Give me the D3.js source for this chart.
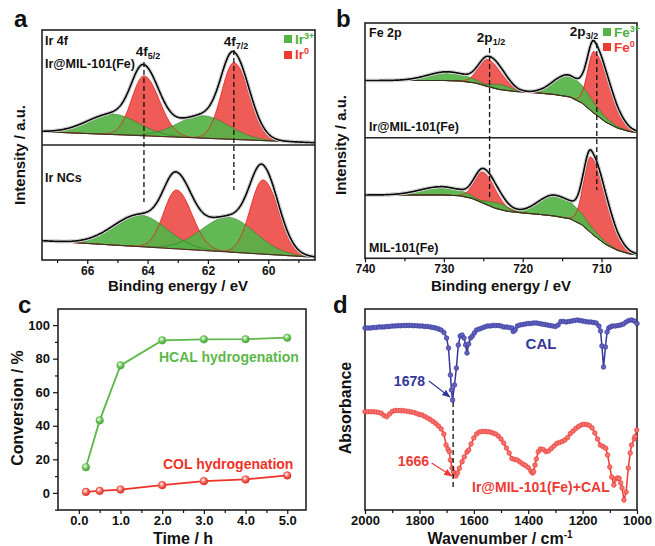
<!DOCTYPE html>
<html>
<head>
<meta charset="utf-8">
<script src="https://cdn.jsdelivr.net/npm/d3@7"></script>
<style>
  html, body { margin: 0; padding: 0; background: #fff; }
  svg { display: block; font-family: "Liberation Sans", Arial, sans-serif; font-weight: bold; }
</style>
</head>
<body>
<div id="chart"></div>
<script>
// ---------- data ----------
// fitted XPS components: [centre eV, height, hwhm on high-BE side, hwhm on low-BE side]
// panel a, Ir 4f
const irTicks = [66, 64, 62, 60];
const irMinor = [67, 65, 63, 61, 59];
const irMilIr3 = [[65.15, 20.5, 1.0, 1.0], [62.16, 22.5, 1.0, 1.0]];
const irMilIr0 = [[64.12, 59.8, 0.48, 0.6], [61.14, 76.7, 0.48, 0.6]];
const irMilBg = [[67.5, 13.3], [58.45, 2.3]];
const irNcIr3 = [[64.25, 31.7, 1.05, 1.05], [61.32, 34.7, 1.05, 1.05]];
const irNcIr0 = [[63.04, 58.9, 0.5, 0.6], [60.17, 74.2, 0.5, 0.6]];
const irNcBg = [[67.5, 19.3], [58.45, 2.7]];
const irPeaks = [64.12, 61.14];

// panel b, Fe 2p
const feTicks = [740, 730, 720, 710];
const feMinor = [735, 725, 715];
const feMilFe3 = [[729.5, 8.8, 3.0, 3.0], [722.8, 5, 1.5, 1.5], [714.2, 21.7, 2.25, 3.2]];
const feMilFe0 = [[724.4, 27, 1.4, 2.0], [710.9, 62, 1.0, 2.3]];
const feMilBg = [[740, 57.2], [730, 57.2], [728, 56.7], [726, 54.7], [724.5, 51.2], [723, 48.2], [721, 46.2],
  [718, 44.7], [716, 43.2], [714, 40.7], [712.5, 34.7], [711, 24.7], [709.5, 15.7], [708, 9.7], [706.5, 6.2], [705.5, 5.2]];
const feRefFe3 = [[730.3, 8.3, 3.2, 3.2], [723.0, 6, 1.8, 1.5], [715.9, 21, 2.5, 3.6]];
const feRefFe0 = [[725.0, 31, 1.3, 1.8], [711.3, 76, 1.1, 2.3]];
const feRefBg = [[740, 63.3], [730, 63.3], [728, 62.5], [726.5, 60], [725, 55], [723.5, 50], [722, 47], [720, 45.3],
  [718, 44], [716, 42.3], [714, 39.5], [712.5, 33.5], [711, 23], [709.5, 14], [708, 8], [706.5, 4.5], [705.5, 3.5]];
const fePeaks = [724.2, 710.6];

// panel c, conversion vs time
const timeH = [0.17, 0.5, 1, 2, 3, 4, 5];
const hcalConv = [15.3, 43.2, 76, 90.9, 91.5, 91.6, 92.5];
const colConv = [0.6, 1.2, 2, 4.6, 7, 8, 10.4];

// panel d, FTIR (wavenumber, absorbance a.u.)
const calIR = [[2000, 91], [1990, 91], [1980, 91], [1970, 91.25], [1960, 91.25], [1950, 91.5], [1940, 91.5], [1930, 91.5],
  [1920, 91.75], [1910, 91.75], [1900, 92], [1890, 92], [1880, 92.15], [1870, 92.15], [1860, 92.25], [1850, 92.25],
  [1840, 92.25], [1830, 92.25], [1820, 92.15], [1810, 92.15], [1800, 92], [1790, 92], [1780, 91.75], [1770, 91.75],
  [1760, 91.5], [1750, 91.25], [1740, 91], [1730, 90.5], [1720, 90], [1710, 88.75], [1700, 86], [1693, 81],
  [1686, 67.5], [1682, 60], [1678, 55], [1671, 62.5], [1664, 71], [1657, 82.5], [1650, 87], [1643, 87.5],
  [1636, 86], [1630, 82.5], [1625, 78.5], [1619, 83], [1612, 86], [1605, 87], [1598, 88.5], [1590, 90],
  [1580, 90.5], [1570, 91], [1560, 91.5], [1550, 92], [1540, 92], [1530, 92.25], [1520, 92.25], [1510, 92.25],
  [1500, 92], [1490, 91.5], [1480, 91.5], [1470, 91.25], [1460, 91], [1455, 89.25], [1448, 90], [1440, 92],
  [1430, 92.5], [1420, 92.75], [1410, 93], [1400, 93.25], [1390, 93.25], [1380, 93.5], [1370, 93.5], [1360, 93.25],
  [1350, 93], [1340, 92.75], [1330, 92.5], [1320, 92.25], [1310, 92], [1300, 91.75], [1290, 92.5], [1280, 94.25],
  [1270, 94.25], [1260, 94], [1250, 94.25], [1240, 94.5], [1230, 94.75], [1220, 95], [1210, 94.75], [1200, 94.5],
  [1190, 94.25], [1180, 94], [1170, 94], [1160, 93.75], [1150, 93.5], [1140, 92], [1134, 89.5], [1129, 82],
  [1123, 71.5], [1116, 81.5], [1110, 89], [1104, 91], [1098, 91.5], [1090, 92], [1080, 92], [1070, 92.25],
  [1060, 92.5], [1050, 93], [1040, 94], [1030, 94.75], [1020, 95], [1010, 94.5], [1000, 93.25]];
const irCalIR = [[2000, 49.15], [1990, 49.15], [1980, 49.15], [1970, 49.15], [1960, 49], [1950, 48.75], [1940, 48.35],
  [1930, 47.25], [1920, 46.65], [1910, 48], [1900, 49.25], [1890, 49.75], [1880, 49.75], [1870, 49.75], [1860, 49.65],
  [1850, 49.5], [1840, 49.25], [1830, 49], [1820, 48.75], [1810, 48.25], [1800, 47.75], [1790, 47.5], [1780, 46.75],
  [1770, 46], [1760, 45.25], [1750, 44.25], [1740, 43.25], [1730, 42], [1720, 40.5], [1710, 38], [1702, 32.5],
  [1695, 30.5], [1690, 29.15], [1686, 25], [1680, 21], [1675, 19], [1670, 17.75], [1666, 17], [1660, 18.5],
  [1653, 20.85], [1643, 24.15], [1635, 26.5], [1625, 29], [1619, 30], [1610, 33], [1600, 36], [1590, 38],
  [1580, 39], [1570, 39.25], [1560, 39.25], [1550, 39.15], [1540, 39], [1530, 38.5], [1520, 38], [1510, 37],
  [1500, 35.5], [1490, 33.5], [1480, 31], [1470, 28.5], [1460, 25.75], [1450, 25.25], [1440, 25], [1430, 24],
  [1420, 23], [1410, 22.25], [1400, 21.25], [1390, 19.5], [1384, 18.5], [1380, 19.25], [1375, 22.5], [1370, 25.5],
  [1363, 29.15], [1355, 30.5], [1345, 30.25], [1335, 29.25], [1325, 29.5], [1315, 30.75], [1305, 32], [1295, 33.25],
  [1285, 33.75], [1275, 34.25], [1265, 35], [1255, 36.25], [1245, 38.25], [1235, 39.5], [1225, 40.75], [1215, 41.75],
  [1205, 42.5], [1195, 42.85], [1185, 42.75], [1175, 42.25], [1165, 41], [1155, 38.5], [1145, 35.5], [1135, 32.5],
  [1125, 31.75], [1115, 30.85], [1108, 27.5], [1100, 21.5], [1093, 16.5], [1085, 12.5], [1078, 15.5], [1072, 16],
  [1066, 15.85], [1060, 13.5], [1055, 11], [1048, 5], [1040, 9], [1032, 21], [1025, 28.5], [1020, 32.5],
  [1010, 35.5], [1007, 36.75], [1001, 40]];
const irTicksD = [2000, 1800, 1600, 1400, 1200, 1000];
const irMinorD = [1900, 1700, 1500, 1300, 1100];

// ---------- drawing ----------
const W = 655, H = 546;
const redFill = '#ef5b57', redLine = '#e0251f';
const greenFill = '#55b246', greenLine = '#2f7526';

const svg = d3.select('#chart').append('svg')
    .attr('width', W)
    .attr('height', H);
svg.append('rect').attr('width', W).attr('height', H).attr('fill', '#fff');
const defs = svg.append('defs');

function peak(be, p) {
    const w = be >= p[0] ? p[2] : p[3];
    const d = (be - p[0]) / w;
    return p[1] * Math.exp(-Math.LN2 * d * d);
}

function styleAxis(g, size) {
    g.select('.domain').remove();
    g.selectAll('.tick line').attr('stroke', '#111').attr('stroke-width', 1.2);
    g.selectAll('.tick text').attr('fill', '#111').attr('font-size', size)
        .attr('font-family', '"Liberation Sans", Arial, sans-serif').attr('font-weight', 'bold');
}

function bottomTicks(x, y0, major, minor, size) {
    svg.append('g').attr('transform', `translate(0,${y0})`)
        .call(d3.axisBottom(x).tickValues(minor).tickSize(3).tickFormat(''))
        .call(g => styleAxis(g, size));
    svg.append('g').attr('transform', `translate(0,${y0})`)
        .call(d3.axisBottom(x).tickValues(major).tickSize(4).tickPadding(2).tickFormat(d3.format('d')))
        .call(g => styleAxis(g, size));
}

function frame(x0, y0, x1, y1) {
    svg.append('rect').attr('x', x0).attr('y', y0).attr('width', x1 - x0).attr('height', y1 - y0)
        .attr('fill', 'none').attr('stroke', '#222').attr('stroke-width', 1.6);
}

function label(x, y, txt, size, color, anchor) {
    return svg.append('text').attr('x', x).attr('y', y).attr('font-size', size)
        .attr('fill', color || '#111').attr('text-anchor', anchor || 'start').text(txt);
}

function yTitle(x, y, txt, size) {
    svg.append('text').attr('transform', `translate(${x},${y}) rotate(-90)`)
        .attr('text-anchor', 'middle').attr('font-size', size).attr('fill', '#111').text(txt);
}

// XPS panel: stacked spectra with fitted components
function xpsPanel(o) {
    const x = d3.scaleLinear().domain(o.range).range([o.left, o.right]);
    const grid = d3.range(0, 601).map(i => o.range[0] + (o.range[1] - o.range[0]) * i / 600);
    o.rows.forEach((row, k) => {
        const y = d3.scaleLinear().domain([0, row.bottom - row.top]).range([row.bottom, row.top]);
        const clipId = `clip-${o.id}-${k}`;
        defs.append('clipPath').attr('id', clipId).append('rect')
            .attr('x', o.left).attr('y', row.top)
            .attr('width', o.right - o.left).attr('height', row.bottom - row.top);
        const g = svg.append('g').attr('clip-path', `url(#${clipId})`);
        const bg = d3.scaleLinear().domain(row.bg.map(d => d[0])).range(row.bg.map(d => d[1]));
        const area = p => d3.area().x(e => x(e)).y0(e => y(bg(e))).y1(e => y(bg(e) + peak(e, p)));
        const top = p => d3.line().x(e => x(e)).y(e => y(bg(e) + peak(e, p)));

        row.red.forEach(p => {
            g.append('path').attr('d', area(p)(grid)).attr('fill', redFill);
        });
        row.green.forEach(p => {
            g.append('path').attr('d', area(p)(grid)).attr('fill', greenFill).attr('fill-opacity', 0.92);
        });
        row.red.forEach(p => {
            g.append('path').attr('d', top(p)(grid)).attr('fill', 'none')
                .attr('stroke', redLine).attr('stroke-width', 0.9);
        });
        row.green.forEach(p => {
            g.append('path').attr('d', top(p)(grid)).attr('fill', 'none')
                .attr('stroke', greenLine).attr('stroke-width', 0.8).attr('stroke-opacity', 0.7);
        });
        g.append('path').attr('d', d3.line().x(e => x(e)).y(e => y(bg(e)))(grid))
            .attr('fill', 'none').attr('stroke', '#222').attr('stroke-width', 1);

        const env = e => bg(e) + row.red.concat(row.green).reduce((s, p) => s + peak(e, p), 0);
        const envLine = d3.line().x(e => x(e)).y(e => y(env(e)));
        // raw spectrum (grey) under the fitted envelope
        g.append('path').attr('d', envLine(grid)).attr('fill', 'none')
            .attr('stroke', '#b5b5b5').attr('stroke-width', 3.6);
        g.append('path').attr('d', envLine(grid)).attr('fill', 'none')
            .attr('stroke', '#fff').attr('stroke-width', 2.6);
        g.append('path').attr('d', envLine(grid)).attr('fill', 'none')
            .attr('stroke', '#0a0a0a').attr('stroke-width', 1.7);
    });

    // dashed guide lines
    o.guides.forEach((be, i) => {
        svg.append('line').attr('x1', x(be)).attr('x2', x(be))
            .attr('y1', o.guideY[i][0]).attr('y2', o.guideY[i][1])
            .attr('stroke', '#111').attr('stroke-width', 1.3).attr('stroke-dasharray', '5,3');
    });

    frame(o.left, o.rows[0].top, o.right, o.rows[1].bottom);
    svg.append('line').attr('x1', o.left).attr('x2', o.right)
        .attr('y1', o.rows[0].bottom).attr('y2', o.rows[0].bottom)
        .attr('stroke', '#222').attr('stroke-width', 1.6);
    bottomTicks(x, o.rows[1].bottom, o.ticks, o.minor, 12);
    return x;
}

// ---- panel a ----
xpsPanel({
    id: 'a', range: [67.5, 58.45], left: 42, right: 315,
    ticks: irTicks, minor: irMinor,
    rows: [
        { top: 30, bottom: 145, bg: irMilBg, red: irMilIr0, green: irMilIr3 },
        { top: 145, bottom: 260, bg: irNcBg, red: irNcIr0, green: irNcIr3 }
    ],
    guides: irPeaks, guideY: [[62, 202], [50, 190]]
});
label(14, 27, 'a', 24);
label(45, 45, 'Ir 4f', 12.5);
label(45, 68, 'Ir@MIL-101(Fe)', 12.5);
label(45, 182, 'Ir NCs', 12.5);
const t5 = label(148, 56, '4f', 13.5, '#111', 'middle');
t5.append('tspan').attr('font-size', 9).attr('dy', 3).text('5/2');
const t7 = label(236, 46, '4f', 13.5, '#111', 'middle');
t7.append('tspan').attr('font-size', 9).attr('dy', 3).text('7/2');
svg.append('rect').attr('x', 284).attr('y', 35).attr('width', 8).attr('height', 8).attr('fill', greenFill);
svg.append('rect').attr('x', 284).attr('y', 51).attr('width', 8).attr('height', 8).attr('fill', '#ee3a33');
const l3 = label(295, 44, 'Ir', 13.5, '#4caf3e');
l3.append('tspan').attr('font-size', 9).attr('dy', -5).text('3+');
const l0 = label(295, 59, 'Ir', 13.5, '#ee3a33');
l0.append('tspan').attr('font-size', 9).attr('dy', -5).text('0');
label(178, 291, 'Binding energy / eV', 15, '#111', 'middle');
yTitle(25, 155, 'Intensity / a.u.', 15);

// ---- panel b ----
xpsPanel({
    id: 'b', range: [740, 705.5], left: 365, right: 637,
    ticks: feTicks, minor: feMinor,
    rows: [
        { top: 23, bottom: 137.7, bg: feMilBg, red: feMilFe0, green: feMilFe3 },
        { top: 137.7, bottom: 258.3, bg: feRefBg, red: feRefFe0, green: feRefFe3 }
    ],
    guides: fePeaks, guideY: [[48, 197], [43, 190]]
});
label(336, 27, 'b', 24);
label(369, 37, 'Fe 2p', 12.5);
label(369, 131, 'Ir@MIL-101(Fe)', 12.5);
label(369, 252, 'MIL-101(Fe)', 12.5);
const p1 = label(491, 42, '2p', 13.5, '#111', 'middle');
p1.append('tspan').attr('font-size', 9).attr('dy', 3).text('1/2');
const p3 = label(584, 36, '2p', 13.5, '#111', 'middle');
p3.append('tspan').attr('font-size', 9).attr('dy', 3).text('3/2');
svg.append('rect').attr('x', 603).attr('y', 28).attr('width', 8).attr('height', 8).attr('fill', greenFill);
svg.append('rect').attr('x', 603).attr('y', 43).attr('width', 8).attr('height', 8).attr('fill', '#ee3a33');
const f3 = label(614, 37, 'Fe', 13.5, '#4caf3e');
f3.append('tspan').attr('font-size', 9).attr('dy', -5).text('3+');
const f0 = label(614, 52, 'Fe', 13.5, '#ee3a33');
f0.append('tspan').attr('font-size', 9).attr('dy', -5).text('0');
label(501, 291, 'Binding energy / eV', 15, '#111', 'middle');
yTitle(346, 145, 'Intensity / a.u.', 15);

// ---- panel c ----
const xc = d3.scaleLinear().domain([-0.5, 5.45]).range([58, 306]);
const yc = d3.scaleLinear().domain([-10.2, 109.6]).range([510, 309]);
frame(58, 309, 306, 510);
svg.append('g').attr('transform', 'translate(0,510)')
    .call(d3.axisBottom(xc).tickValues([0.5, 1.5, 2.5, 3.5, 4.5]).tickSize(3).tickFormat(''))
    .call(g => styleAxis(g, 13));
svg.append('g').attr('transform', 'translate(0,510)')
    .call(d3.axisBottom(xc).tickValues([0, 1, 2, 3, 4, 5]).tickSize(4).tickPadding(2))
    .call(g => styleAxis(g, 13));
svg.append('g').attr('transform', 'translate(58,0)')
    .call(d3.axisLeft(yc).tickValues([-10, 10, 30, 50, 70, 90]).tickSize(3).tickFormat(''))
    .call(g => styleAxis(g, 13));
svg.append('g').attr('transform', 'translate(58,0)')
    .call(d3.axisLeft(yc).tickValues([0, 20, 40, 60, 80, 100]).tickSize(5).tickPadding(3))
    .call(g => styleAxis(g, 13));

function ball(id, light, dark) {
    const gr = defs.append('radialGradient').attr('id', id).attr('cx', '40%').attr('cy', '35%').attr('r', '65%');
    gr.append('stop').attr('offset', '0%').attr('stop-color', '#fff');
    gr.append('stop').attr('offset', '45%').attr('stop-color', light);
    gr.append('stop').attr('offset', '100%').attr('stop-color', dark);
}
ball('gball', '#7fcf6c', '#3f9a31');
ball('rball', '#f57a70', '#d8261f');

[[hcalConv, '#5cb848', 'gball'], [colConv, '#ee3228', 'rball']].forEach(([vals, col, grad]) => {
    const pts = timeH.map((t, i) => [t, vals[i]]);
    svg.append('path').attr('d', d3.line().x(d => xc(d[0])).y(d => yc(d[1]))(pts))
        .attr('fill', 'none').attr('stroke', col).attr('stroke-width', 1.8);
    svg.selectAll(null).data(pts).enter().append('circle')
        .attr('cx', d => xc(d[0])).attr('cy', d => yc(d[1])).attr('r', 3.8)
        .attr('fill', `url(#${grad})`).attr('stroke', col).attr('stroke-width', 0.6);
});
label(159, 362, 'HCAL hydrogenation', 14, '#5cb848');
label(163, 469, 'COL hydrogenation', 14, '#ee3228');
label(18, 313, 'c', 24);
label(183, 544, 'Time / h', 16, '#111', 'middle');
yTitle(23, 408, 'Conversion / %', 16);

// ---- panel d ----
const xd = d3.scaleLinear().domain([2000, 1000]).range([365, 637]);
const yd = d3.scaleLinear().domain([0, 100.5]).range([510, 309]);
frame(365, 309, 637, 510);
svg.append('g').attr('transform', 'translate(0,510)')
    .call(d3.axisBottom(xd).tickValues(irMinorD).tickSize(3).tickFormat(''))
    .call(g => styleAxis(g, 13));
svg.append('g').attr('transform', 'translate(0,510)')
    .call(d3.axisBottom(xd).tickValues(irTicksD).tickSize(4).tickPadding(2).tickFormat(d3.format('d')))
    .call(g => styleAxis(g, 13));

const irLine = d3.line().x(d => xd(d[0])).y(d => yd(d[1]));
[[calIR, '#35359a', '#6262c0'], [irCalIR, '#ec3a35', '#f27570']].forEach(([pts, col, fill]) => {
    svg.append('path').attr('d', irLine(pts)).attr('fill', 'none')
        .attr('stroke', col).attr('stroke-width', 1.5);
    svg.selectAll(null).data(pts).enter().append('circle')
        .attr('cx', d => xd(d[0])).attr('cy', d => yd(d[1])).attr('r', 2.3)
        .attr('fill', fill).attr('stroke', col).attr('stroke-width', 0.7);
});

// dashed line between the two C=O bands
svg.append('line').attr('x1', xd(1676)).attr('x2', xd(1676)).attr('y1', yd(54)).attr('y2', yd(11.5))
    .attr('stroke', '#111').attr('stroke-width', 1.3).attr('stroke-dasharray', '5,3');

['#35359a', '#ec3a35'].forEach((c, i) => {
    defs.append('marker').attr('id', 'arr' + i).attr('viewBox', '0 0 10 10')
        .attr('refX', 9).attr('refY', 5).attr('markerWidth', 7).attr('markerHeight', 7)
        .attr('orient', 'auto').append('path').attr('d', 'M0,1 L10,5 L0,9 Z').attr('fill', c);
});
svg.append('line').attr('x1', xd(1765)).attr('y1', yd(64.5)).attr('x2', xd(1688)).attr('y2', yd(56.5))
    .attr('stroke', '#35359a').attr('stroke-width', 1.2).attr('marker-end', 'url(#arr0)');
svg.append('line').attr('x1', xd(1755)).attr('y1', yd(23.5)).attr('x2', xd(1681)).attr('y2', yd(17))
    .attr('stroke', '#ec3a35').attr('stroke-width', 1.2).attr('marker-end', 'url(#arr1)');
label(425, 386, '1678', 14, '#35359a', 'end');
label(429, 466, '1666', 14, '#ec3a35', 'end');
label(541, 349, 'CAL', 15, '#35359a', 'middle');
label(472, 492, 'Ir@MIL-101(Fe)+CAL', 14, '#ec3a35');
label(333, 313, 'd', 24);
const wn = label(500, 544, 'Wavenumber / cm', 16, '#111', 'middle');
wn.append('tspan').attr('font-size', 10).attr('dy', -6).text('-1');
yTitle(351, 408, 'Absorbance', 16);
</script>
</body>
</html>
